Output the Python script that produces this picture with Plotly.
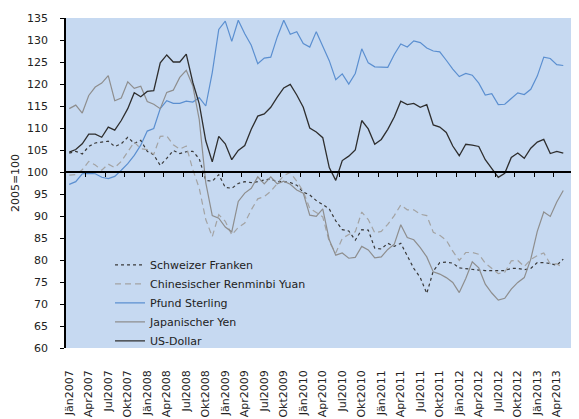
import plotly.graph_objects as go

# Monthly index values (2005=100), Jan 2007 .. May 2013
months = [f"{m}{y}" for y in range(2007, 2014) for m in
          ["Jän", "Feb", "Mär", "Apr", "Mai", "Jun", "Jul", "Aug", "Sep", "Okt", "Nov", "Dez"]][:77]

chf = [104.3, 104.7, 104.1, 105.8, 106.6, 106.8, 107.0, 105.8, 106.4, 107.9, 106.5, 107.2,
       104.7, 103.9, 101.5, 103.1, 104.9, 104.2, 104.6, 104.7, 103.0, 98.1, 97.9, 99.4,
       96.5, 96.3, 97.4, 97.8, 97.6, 97.8, 98.2, 98.4, 97.8, 97.8, 97.6, 97.0,
       95.4, 94.8, 93.5, 92.6, 91.6, 88.9, 86.9, 86.6, 84.5, 86.9, 86.8, 82.7,
       82.5, 83.8, 83.1, 83.8, 81.0, 78.1, 76.0, 72.4, 77.5, 79.4, 79.5, 79.3,
       78.2, 78.0, 77.9, 77.7, 77.6, 77.6, 77.6, 77.6, 78.1, 78.1, 77.8, 78.1,
       79.4, 79.4, 79.2, 78.8, 80.2]

cny = [99.3, 99.4, 100.5, 102.4, 101.6, 100.4, 101.8, 101.0, 102.4, 104.6, 106.8, 105.3,
       105.1, 104.0, 108.1, 108.2, 106.2, 105.2, 105.9, 100.6, 96.3, 89.2, 85.3, 90.3,
       88.8, 85.7, 87.4, 88.4, 91.4, 93.9, 94.4, 95.6, 97.5, 99.2, 99.9, 97.9,
       95.6, 91.7, 90.8, 89.8, 84.1, 81.6, 84.9, 85.8, 86.4, 90.9, 89.2, 86.2,
       86.5, 88.1, 90.1, 92.5, 91.4, 91.4, 90.4, 90.1, 86.3, 85.6, 84.5, 82.0,
       79.9, 81.7, 81.7, 81.3, 79.3, 78.1, 76.9, 77.2, 79.8, 79.9, 78.5, 80.1,
       81.0, 81.6, 79.1, 79.1, 78.3]

gbp = [97.2, 97.8, 99.6, 99.7, 99.6, 98.8, 98.5, 99.0, 100.4, 101.9, 103.8, 106.1,
       109.3, 109.9, 114.4, 116.2, 115.6, 115.6, 116.1, 115.9, 116.9, 115.0, 122.6, 132.4,
       134.3, 129.7, 134.5, 131.4, 128.8, 124.6, 125.9, 126.1, 130.7, 134.5, 131.3, 131.9,
       129.2, 128.4, 131.9, 128.7, 125.3, 121.0, 122.3, 120.0, 122.4, 128.0, 124.8, 123.9,
       123.9, 123.8, 126.7, 129.1, 128.4, 129.8, 129.4, 128.2, 127.5, 127.3, 125.4, 123.4,
       121.7, 122.4, 122.0, 120.2, 117.5, 117.8, 115.3, 115.4, 116.7, 118.0, 117.6, 118.8,
       121.8, 126.1, 125.8, 124.4, 124.2]

jpy = [114.4, 115.2, 113.4, 117.4, 119.3, 120.2, 121.9, 116.2, 116.8, 120.5, 119.0, 119.5,
       116.0, 115.4, 114.4, 118.1, 118.6, 121.5, 123.1, 119.6, 111.9, 97.6, 90.1, 89.5,
       87.5, 86.4, 93.3, 95.2, 96.3, 98.9, 97.3, 98.9, 97.3, 97.9, 97.2, 95.9,
       95.2, 90.2, 89.9, 91.6, 84.6, 81.1, 81.6, 80.4, 80.6, 83.1, 82.3, 80.5,
       80.7, 82.4, 83.6, 88.0, 85.1, 84.6, 82.8, 80.7, 77.3, 76.8, 76.0, 74.9,
       72.6, 75.8, 79.6, 78.2, 74.5, 72.5, 70.9, 71.3, 73.4, 74.9, 76.0, 80.2,
       86.5, 90.9, 89.9, 93.2, 95.8]

usd = [104.5, 105.1, 106.4, 108.6, 108.6, 107.9, 110.2, 109.5, 111.7, 114.4, 118.0, 117.1,
       118.3, 118.5, 124.8, 126.6, 125.0, 125.0, 126.8, 120.4, 115.5, 107.1, 102.3, 108.1,
       106.4, 102.8, 104.9, 106.0, 109.7, 112.7, 113.2, 114.7, 117.0, 119.1, 119.9, 117.5,
       114.7, 110.0, 109.1, 107.8, 101.0, 98.1, 102.6, 103.6, 105.0, 111.7, 109.8, 106.3,
       107.4, 109.7, 112.5, 116.1, 115.3, 115.6, 114.7, 115.3, 110.7, 110.2, 109.0, 105.9,
       103.7, 106.3, 106.1, 105.8, 102.8, 100.7, 98.8, 99.7, 103.3, 104.3, 103.1, 105.4,
       106.8, 107.4, 104.2, 104.7, 104.3]

tick_labels = ["Jän2007", "Apr2007", "Jul2007", "Okt2007", "Jän2008", "Apr2008", "Jul2008", "Okt2008",
               "Jän2009", "Apr2009", "Jul2009", "Okt2009", "Jän2010", "Apr2010", "Jul2010", "Okt2010",
               "Jän2011", "Apr2011", "Jul2011", "Okt2011", "Jän2012", "Apr2012", "Jul2012", "Okt2012",
               "Jän2013", "Apr2013", "Jul2013"]

series = [
    ("Schweizer Franken", chf, "#3a3a3a", "dot", 1.2),
    ("Chinesischer Renminbi Yuan", cny, "#a3a3a3", "6px,4px", 1.2),
    ("Pfund Sterling", gbp, "#5b8fd0", "solid", 1.2),
    ("Japanischer Yen", jpy, "#8e8e8e", "solid", 1.2),
    ("US-Dollar", usd, "#2e2e2e", "solid", 1.3),
]

x = list(range(len(months)))
FONT = "DejaVu Sans"

fig = go.Figure()
for name, vals, color, dash, w in series:
    fig.add_trace(go.Scatter(x=x, y=vals, name=name, mode="lines",
                             line=dict(color=color, dash=dash, width=w)))
# dummy trace to activate the axis at 100
fig.add_trace(go.Scatter(x=[None], y=[None], xaxis="x2", showlegend=False, hoverinfo="skip"))

tickpos = [3 * i for i in range(len(tick_labels))]
boundaries = [3 * i - 0.5 for i in range(1, len(tick_labels))]
xr = [-0.5, 79.65]

fig.update_layout(
    template="none",
    width=579, height=419,
    margin=dict(l=58, r=0, t=10, b=79, pad=0),
    paper_bgcolor="white",
    plot_bgcolor="#c6d9f1",
    font=dict(family=FONT, size=11, color="#222"),
    showlegend=True,
    legend=dict(x=0.0845, y=0.296, xanchor="left", yanchor="top",
                bgcolor="rgba(0,0,0,0)", font=dict(size=11, family=FONT, color="#222"),
                tracegroupgap=0, itemwidth=30, borderwidth=0),
    xaxis=dict(range=xr, tickmode="array", tickvals=tickpos, ticktext=tick_labels,
               tickangle=-90, ticks="", showline=False, showgrid=False, zeroline=False,
               automargin=False, ticklabelstandoff=19,
               tickfont=dict(size=11, family=FONT, color="#222")),
    xaxis2=dict(range=xr, overlaying="x", anchor="free", position=(100 - 60) / 75,
                side="bottom", tickmode="array", tickvals=boundaries, showticklabels=False,
                ticks="outside", ticklen=4, tickcolor="black", tickwidth=1, automargin=False,
                showline=True, linecolor="black", linewidth=1.5, showgrid=False, zeroline=False),
    yaxis=dict(range=[60, 135], dtick=5, tick0=60, ticks="outside", ticklen=4,
               tickcolor="black", tickwidth=1, showline=True, linecolor="black", linewidth=1.5,
               showgrid=False, zeroline=False, ticklabelstandoff=10, automargin=False,
               tickfont=dict(size=11, family=FONT, color="#222"),
               title=dict(text="2005=100", standoff=5, font=dict(size=11, family=FONT, color="#222"))),
)

fig.write_html("out.html")
